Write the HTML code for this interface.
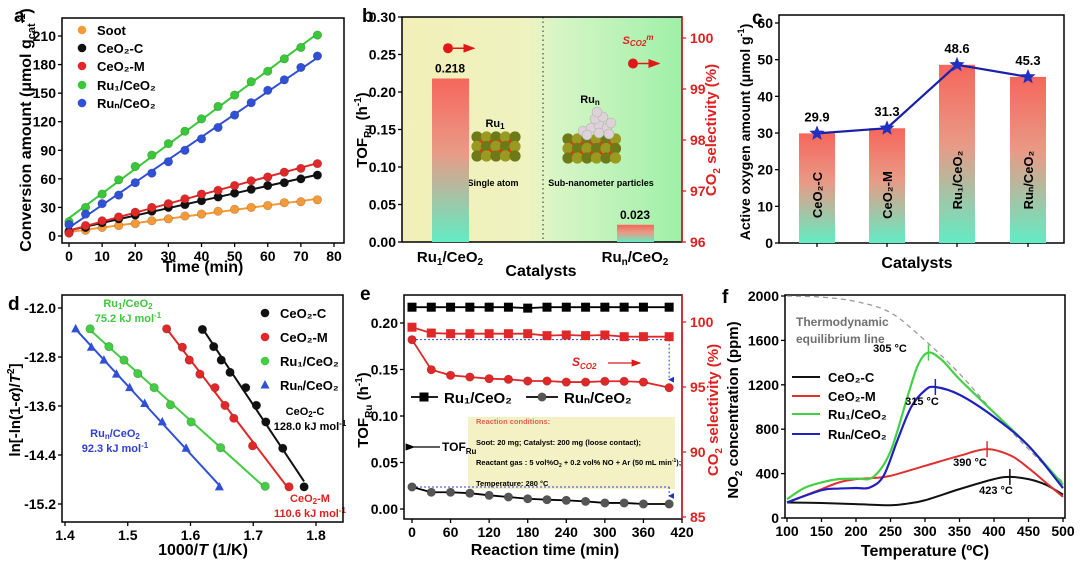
<!DOCTYPE html>
<html><head><meta charset="utf-8">
<style>
html,body{margin:0;padding:0;background:#fff;}
svg{display:block;font-family:"Liberation Sans",Arial,sans-serif;font-weight:bold;}
</style></head>
<body>
<svg id="fig" width="1080" height="571" viewBox="0 0 1080 571" xmlns="http://www.w3.org/2000/svg">
<defs>
<linearGradient id="gBar" x1="0" y1="0" x2="0" y2="1"><stop offset="0" stop-color="#f6665c"/><stop offset="0.45" stop-color="#e99a86"/><stop offset="1" stop-color="#62ecc4"/></linearGradient>
<linearGradient id="gBg" x1="0" y1="0" x2="1" y2="0"><stop offset="0" stop-color="#f3efb8"/><stop offset="0.45" stop-color="#eef3bf"/><stop offset="0.55" stop-color="#d8f5c6"/><stop offset="1" stop-color="#9ef0a8"/></linearGradient>
<marker id="arR" markerWidth="8" markerHeight="6" refX="7" refY="3" orient="auto"><path d="M0,0L8,3L0,6z" fill="#e01818"/></marker>
<marker id="arK" markerWidth="8" markerHeight="6" refX="1" refY="3" orient="auto"><path d="M8,0L0,3L8,6z" fill="#000"/></marker>
<marker id="arB" markerWidth="6" markerHeight="6" refX="3" refY="5" orient="auto"><path d="M0,0L3,6L6,0z" fill="#2030d0"/></marker>
</defs>

<!-- Panel a -->
<g>
<text x="14" y="22" font-size="19">a</text>
<text transform="translate(31,130) rotate(-90)" text-anchor="middle" font-size="16">Conversion amount (μmol g<tspan font-size="11" dy="4">cat</tspan><tspan font-size="11" dy="-10">-1</tspan><tspan dy="6">)</tspan></text>
<text x="203" y="272" text-anchor="middle" font-size="16">Time (min)</text>
</g>
<!-- Panel b -->
<g>
<rect x="402" y="17" width="280" height="225" fill="url(#gBg)"/>
<line x1="543" y1="17" x2="543" y2="242" stroke="#666" stroke-dasharray="1.5,3" stroke-width="1.5"/>
<text x="362" y="22" font-size="19">b</text>
<text transform="translate(367,130) rotate(-90)" text-anchor="middle" font-size="15">TOF<tspan font-size="10" dy="4">Ru</tspan><tspan dy="-4"> (h</tspan><tspan font-size="10" dy="-6">-1</tspan><tspan dy="6">)</tspan></text>
<text transform="translate(716,130) rotate(-90)" text-anchor="middle" font-size="15" fill="#e02020">CO<tspan font-size="10" dy="4">2</tspan><tspan dy="-4"> selectivity (%)</tspan></text>
<text x="450" y="262" text-anchor="middle" font-size="15">Ru<tspan font-size="10" dy="3">1</tspan><tspan dy="-3">/CeO</tspan><tspan font-size="10" dy="3">2</tspan></text>
<text x="635" y="262" text-anchor="middle" font-size="15">Ru<tspan font-size="10" dy="3">n</tspan><tspan dy="-3">/CeO</tspan><tspan font-size="10" dy="3">2</tspan></text>
<text x="541" y="276" text-anchor="middle" font-size="16">Catalysts</text>
<text x="495" y="127" text-anchor="middle" font-size="11">Ru<tspan font-size="8" dy="2">1</tspan></text>
<text x="493" y="186" text-anchor="middle" font-size="9">Single atom</text>
<text x="590" y="103" text-anchor="middle" font-size="11">Ru<tspan font-size="8" dy="2">n</tspan></text>
<text x="601" y="186" text-anchor="middle" font-size="9">Sub-nanometer particles</text>
<text x="638" y="44" text-anchor="middle" font-size="11" font-style="italic" fill="#e02020">S<tspan font-size="8" dy="2">CO2</tspan><tspan font-size="8" dy="-6">m</tspan></text>
<g id="bIllus"></g>
</g>
<!-- Panel c -->
<g>
<text x="752" y="24" font-size="19">c</text>
<text transform="translate(750,132) rotate(-90)" text-anchor="middle" font-size="14">Active oxygen amount (μmol g<tspan font-size="9" dy="-6">-1</tspan><tspan dy="6">)</tspan></text>
<text x="917" y="268" text-anchor="middle" font-size="16">Catalysts</text>
</g>
<!-- Panel d -->
<g>
<text x="8" y="310" font-size="19">d</text>
<text transform="translate(20,410) rotate(-90)" text-anchor="middle" font-size="15">ln[-ln(1-<tspan font-style="italic">α</tspan>)/<tspan font-style="italic">T</tspan><tspan font-size="10" dy="-6">2</tspan><tspan dy="6">]</tspan></text>
<text x="203" y="555" text-anchor="middle" font-size="16">1000/<tspan font-style="italic">T</tspan> (1/K)</text>
<text x="128" y="307" text-anchor="middle" font-size="11" fill="#3ec83e">Ru<tspan font-size="8" dy="2">1</tspan><tspan dy="-2">/CeO</tspan><tspan font-size="8" dy="2">2</tspan></text>
<text x="128" y="322" text-anchor="middle" font-size="11" fill="#3ec83e">75.2 kJ mol<tspan font-size="8" dy="-4">-1</tspan></text>
<text x="115" y="437" text-anchor="middle" font-size="11" fill="#3040d0">Ru<tspan font-size="8" dy="2">n</tspan><tspan dy="-2">/CeO</tspan><tspan font-size="8" dy="2">2</tspan></text>
<text x="115" y="452" text-anchor="middle" font-size="11" fill="#3040d0">92.3 kJ mol<tspan font-size="8" dy="-4">-1</tspan></text>
<text x="305" y="415" text-anchor="middle" font-size="11">CeO<tspan font-size="8" dy="2">2</tspan><tspan dy="-2">-C</tspan></text>
<text x="310" y="430" text-anchor="middle" font-size="11">128.0 kJ mol<tspan font-size="8" dy="-4">-1</tspan></text>
<text x="310" y="502" text-anchor="middle" font-size="11" fill="#e02020">CeO<tspan font-size="8" dy="2">2</tspan><tspan dy="-2">-M</tspan></text>
<text x="310" y="517" text-anchor="middle" font-size="11" fill="#e02020">110.6 kJ mol<tspan font-size="8" dy="-4">-1</tspan></text>
</g>
<!-- Panel e -->
<g>
<text x="360" y="300" font-size="19">e</text>
<rect x="468" y="417" width="207" height="72" fill="#f4f1c4"/>
<text x="476" y="424" font-size="7.5" fill="#e06050">Reaction conditions:</text>
<text x="476" y="445" font-size="7.5">Soot: 20 mg; Catalyst: 200 mg (loose contact);</text>
<text x="476" y="465" font-size="7.5">Reactant gas : 5 vol%O<tspan font-size="5" dy="2">2</tspan><tspan dy="-2"> + 0.2 vol% NO + Ar (50 mL min</tspan><tspan font-size="5" dy="-3">-1</tspan><tspan dy="3">);</tspan></text>
<text x="476" y="486" font-size="7.5">Temperature: 280 °C</text>
<line x1="440" y1="447" x2="414" y2="447" stroke="#000" stroke-width="1.2" marker-end="url(#arK)"/>
<text x="442" y="451" font-size="12">TOF<tspan font-size="8" dy="3">Ru</tspan></text>
<text x="572" y="366" font-size="12" font-style="italic" fill="#e02020">S<tspan font-size="8" dy="3">CO2</tspan></text>
<line x1="608" y1="363" x2="640" y2="363" stroke="#e01818" stroke-width="1.2" marker-end="url(#arR)"/>
<text transform="translate(368,410) rotate(-90)" text-anchor="middle" font-size="15">TOF<tspan font-size="10" dy="4">Ru</tspan><tspan dy="-4"> (h</tspan><tspan font-size="10" dy="-6">-1</tspan><tspan dy="6">)</tspan></text>
<text transform="translate(718,410) rotate(-90)" text-anchor="middle" font-size="15" fill="#e02020">CO<tspan font-size="10" dy="4">2</tspan><tspan dy="-4"> selectivity (%)</tspan></text>
<text x="545" y="555" text-anchor="middle" font-size="16">Reaction time (min)</text>
</g>
<!-- Panel f -->
<g>
<text x="722" y="303" font-size="19">f</text>
<text transform="translate(738,410) rotate(-90)" text-anchor="middle" font-size="15">NO<tspan font-size="10" dy="4">2</tspan><tspan dy="-4"> concentration (ppm)</tspan></text>
<text x="925" y="556" text-anchor="middle" font-size="16">Temperature (ºC)</text>
<text x="796" y="326" font-size="12" fill="#707070">Thermodynamic</text>
<text x="796" y="343" font-size="12" fill="#707070">equilibrium  line</text>
</g>
<g id="marks"></g>
</svg>
<script>
// ---- Panel a data ----
const aTime = [0,5,10,15,20,25,30,35,40,45,50,55,60,65,70,75];
const aSoot = [4,6,9,11,13,16,18,21,23,26,28,30,32,35,36,38];
const aCeOC = [5,9,14,18,22,26,30,33,37,41,45,49,53,56,60,64];
const aCeOM = [3,11,16,20,25,30,34,39,44,48,53,58,62,67,71,76];
const aRu1 = [15,30,44,59,73,85,97,110,123,136,148,162,173,186,198,211];
const aRun = [12,23,34,43,56,66,78,90,102,114,127,140,153,164,177,189];
const aXTicks = [0,10,20,30,40,50,60,70,80];
const aYTicks = [0,30,60,90,120,150,180,210];
// ---- Panel b data ----
const bCats = ["Ru1/CeO2","Run/CeO2"];
const bTOF = [0.218,0.023];
const bSel = [99.8,99.5];
const bYTicks = [0,0.05,0.10,0.15,0.20,0.25,0.30];
const bY2Ticks = [96,97,98,99,100];
// ---- Panel c data ----
const cCats = ["CeO2-C","CeO2-M","Ru1/CeO2","Run/CeO2"];
const cVals = [29.9,31.3,48.6,45.3];
const cYTicks = [0,10,20,30,40,50,60];
// ---- Panel d data ----
const dCX = [1.619,1.637,1.649,1.663,1.688,1.705,1.720,1.747,1.781];
const dCY = [-12.35,-12.63,-12.85,-13.05,-13.30,-13.59,-13.86,-14.29,-14.92];
const dMX = [1.562,1.587,1.598,1.615,1.639,1.655,1.669,1.699,1.757];
const dMY = [-12.34,-12.64,-12.85,-13.08,-13.30,-13.59,-13.80,-14.25,-14.92];
const dR1X = [1.440,1.470,1.494,1.516,1.542,1.568,1.601,1.648,1.719];
const dR1Y = [-12.34,-12.63,-12.85,-13.07,-13.30,-13.58,-13.86,-14.28,-14.91];
const dRnX = [1.417,1.442,1.462,1.482,1.503,1.527,1.555,1.593,1.646];
const dRnY = [-12.34,-12.64,-12.85,-13.08,-13.30,-13.56,-13.86,-14.29,-14.92];
const dXTicks = [1.4,1.5,1.6,1.7,1.8];
const dYTicks = [-12.0,-12.8,-13.6,-14.4,-15.2];
// ---- Panel e data ----
const eTime = [0,30,60,90,120,150,180,210,240,270,300,330,360,400];
const eTOF1 = [0.217,0.217,0.217,0.217,0.217,0.217,0.216,0.217,0.217,0.217,0.217,0.217,0.217,0.217];
const eTOFn = [0.0237,0.018,0.018,0.017,0.0147,0.0129,0.011,0.010,0.0093,0.0082,0.0065,0.0065,0.0054,0.0054];
const eSel1 = [99.6,99.15,99.1,99.1,99.1,99.1,99.1,98.95,99.0,98.95,99.0,98.87,98.87,98.87];
const eSeln = [98.64,96.33,95.9,95.77,95.64,95.59,95.46,95.46,95.38,95.38,95.44,95.44,95.38,94.95];
const eXTicks = [0,60,120,180,240,300,360,420];
const eYTicks = [0,0.05,0.10,0.15,0.20];
const eY2Ticks = [85,90,95,100];
// ---- Panel f data ----
const fBlackT = [100,150,200,250,275,300,350,400,423,450,475,500];
const fBlackV = [140,135,125,115,130,160,260,350,370,350,300,210];
const fRedT = [100,150,175,200,225,250,300,350,390,425,450,475,500];
const fRedV = [140,260,320,350,360,380,470,560,620,560,450,320,190];
const fGreenT = [100,125,150,175,200,225,250,275,290,305,325,350,400,450,500];
const fGreenV = [170,270,320,350,355,370,600,1100,1380,1490,1420,1250,950,650,300];
const fBlueT = [100,150,175,200,220,240,260,280,300,315,350,400,450,500];
const fBlueV = [140,250,265,270,275,380,700,1000,1150,1180,1110,910,650,270];
const fEqT = [100,150,200,250,300,350,400,450,500];
const fEqV = [2000,1990,1950,1850,1600,1300,950,620,320];
const fXTicks = [100,150,200,250,300,350,400,450,500];
const fYTicks = [0,400,800,1200,1600,2000];

const NS="http://www.w3.org/2000/svg";
const root=document.getElementById('marks');
function mk(tag,parent){const e=document.createElementNS(NS,tag);(parent||root).appendChild(e);return e;}
function at(e,o){for(const k in o)e.setAttribute(k,o[k]);return e;}

const xa=t=>69+t*(265/80), ya=v=>236-v*(200/210);
const yb=v=>242-v*(225/0.3), yb2=s=>242-(s-96)*51;
const yc=v=>243-v*(220/60);
const xd=x=>65+(x-1.4)*(251/0.4), yd=y=>308+(-12-y)*(196/3.2);
const xe=t=>412+t*(270/420), ye=v=>509-v*(186/0.2), ye2=s=>322+(100-s)*13;
const xf=t=>787+(t-100)*(276/400), yf=v=>518-v*(222/2000);

function frame(x,y,w,h,name,color){let e=mk('rect');at(e,{x:x,y:y,width:w,height:h,fill:'none',stroke:color||'#000','stroke-width':1.5});

}
function xTicks(ticks,sx,yb0,fmt,name){ticks.forEach(t=>{let l=mk('line');at(l,{x1:sx(t),x2:sx(t),y1:yb0,y2:yb0+4,stroke:'#000','stroke-width':1.3});


let tx=mk('text');at(tx,{x:sx(t),y:yb0+18,'text-anchor':'middle','font-size':14});tx.textContent=fmt(t);

});}
function yTicks(ticks,sy,x0,fmt,name,right,color){ticks.forEach(t=>{let d=right?4:-4;let l=mk('line');at(l,{x1:x0,x2:x0+d,y1:sy(t),y2:sy(t),stroke:color||'#000','stroke-width':1.3});


let tx=mk('text');at(tx,{x:right?x0+8:x0-6,y:sy(t)+5,'text-anchor':right?'start':'end','font-size':14,fill:color||'#000'});tx.textContent=fmt(t);

});}
function fitLine(xs,ys,sx,sy,color,name){const n=xs.length;let mx=0,my=0;xs.forEach((x,i)=>{mx+=x;my+=ys[i];});mx/=n;my/=n;let num=0,den=0;xs.forEach((x,i)=>{num+=(x-mx)*(ys[i]-my);den+=(x-mx)*(x-mx);});const k=num/den,b=my-k*mx;const x0=xs[0],x1=xs[n-1];
let l=mk('line');at(l,{x1:sx(x0),y1:sy(k*x0+b),x2:sx(x1),y2:sy(k*x1+b),stroke:color,'stroke-width':2});

}
function polyline(xs,ys,sx,sy,color,name,w){let p=mk('polyline');at(p,{points:xs.map((x,i)=>sx(x)+','+sy(ys[i])).join(' '),fill:'none',stroke:color,'stroke-width':w||1.8});

return p;}
function smooth(xs,ys,sx,sy,color,name,w,dash){const P=xs.map((x,i)=>[sx(x),sy(ys[i])]);let d='M'+P[0][0]+','+P[0][1];for(let i=0;i<P.length-1;i++){const p0=P[Math.max(0,i-1)],p1=P[i],p2=P[i+1],p3=P[Math.min(P.length-1,i+2)];d+=' C'+(p1[0]+(p2[0]-p0[0])/6)+','+(p1[1]+(p2[1]-p0[1])/6)+' '+(p2[0]-(p3[0]-p1[0])/6)+','+(p2[1]-(p3[1]-p1[1])/6)+' '+p2[0]+','+p2[1];}
let p=mk('path');at(p,{d:d,fill:'none',stroke:color,'stroke-width':w||2});if(dash)p.setAttribute('stroke-dasharray',dash);

}
function dots(xs,ys,sx,sy,color,name,r){xs.forEach((x,i)=>{let c=mk('circle');at(c,{cx:sx(x),cy:sy(ys[i]),r:r||4.5,fill:color,stroke:'rgba(0,0,0,0.25)','stroke-width':0.6});

});}
function tris(xs,ys,sx,sy,color,name){xs.forEach((x,i)=>{const X=sx(x),Y=sy(ys[i]);let p=mk('path');at(p,{d:`M${X},${Y-5}L${X+4.5},${Y+3.5}L${X-4.5},${Y+3.5}Z`,fill:color});

});}
function squares(xs,ys,sx,sy,color,name){xs.forEach((x,i)=>{let r=mk('rect');at(r,{x:sx(x)-4.5,y:sy(ys[i])-4.5,width:9,height:9,fill:color});

});}
function txt(x,y,s,size,anchor,color,name){let t=mk('text');at(t,{x:x,y:y,'font-size':size,'text-anchor':anchor||'start',fill:color||'#000'});t.textContent=s;

return t;}

// ===== Panel a =====
frame(62,18,282,225,'a-plot-frame');
xTicks(aXTicks,xa,243,t=>t,'a-x-tick');
yTicks(aYTicks,ya,62,t=>t,'a-y-tick');
const aSeries=[[aSoot,'#f59a36','soot'],[aCeOC,'#111111','ceo2-c'],[aCeOM,'#e02828','ceo2-m'],[aRu1,'#38c838','ru1-ceo2'],[aRun,'#3050d8','run-ceo2']];
aSeries.forEach(s=>{fitLine(aTime,s[0],xa,ya,s[1],'a-fit-'+s[2]);dots(aTime,s[0],xa,ya,s[1],'a-point-'+s[2],4.3);});
const aLeg=[['Soot','#f59a36',30],['CeO₂-C','#111',48],['CeO₂-M','#e02828',66],['Ru₁/CeO₂','#38c838',85],['Ruₙ/CeO₂','#3050d8',103]];
aLeg.forEach(l=>{let c=mk('circle');at(c,{cx:82,cy:l[2],r:4.3,fill:l[1]});


txt(97,l[2]+5,l[0],13,'start','#000','a-legend-entry');});

// ===== Panel b =====
frame(402,17,280,225,'b-plot-frame');
let rax=mk('line');at(rax,{x1:682,y1:17,x2:682,y2:242,stroke:'#e02020','stroke-width':1.5});


yTicks(bYTicks,yb,402,t=>t.toFixed(2),'b-y-tick');
yTicks(bY2Ticks,yb2,682,t=>t,'b-y2-tick',true,'#e02020');
const bX=[450,635];
bTOF.forEach((v,i)=>{let r=mk('rect');at(r,{x:bX[i]-18,y:yb(v),width:37,height:242-yb(v),fill:'url(#gBar)'});


txt(bX[i],yb(v)-6,v.toFixed(3),12,'middle','#000','b-bar-value');});
bSel.forEach((s,i)=>{const X=bX[i];let c=mk('circle');at(c,{cx:X-2,cy:yb2(s),r:5,fill:'#e01818'});


let l=mk('line');at(l,{x1:X+3,y1:yb2(s),x2:X+24,y2:yb2(s),stroke:'#e01818','stroke-width':1.5,'marker-end':'url(#arR)'});

});
const ill=document.getElementById('bIllus');
function slab(x0,y0,cols,rows){for(let r=0;r<rows;r++)for(let c=0;c<cols;c++){let e=mk('circle',ill);at(e,{cx:x0+c*9.5,cy:y0+r*9.5,r:5.6,fill:(r+c)%2?'#9a9a20':'#6e7a18'});


if(c<cols-1&&r<rows-1){let o=mk('circle',ill);at(o,{cx:x0+c*9.5+4.7,cy:y0+r*9.5+4.7,r:2.2,fill:'#e03a1c'});

}}}
slab(477,137,5,3);slab(568,139,6,3);
[[583,131],[591,128],[599,125],[607,128],[595,119],[603,117],[611,123],[587,135],[599,133],[609,134],[597,112]].forEach(p=>{let e=mk('circle',ill);at(e,{cx:p[0],cy:p[1],r:5,fill:'#dcd2d8',stroke:'#aaa','stroke-width':0.5});

});

// ===== Panel c =====
frame(779,15,285,228,'c-plot-frame');
yTicks(cYTicks,yc,779,t=>t,'c-y-tick');
const cX=[817,887,957,1028];
const cLab=['CeO₂-C','CeO₂-M','Ru₁/CeO₂','Ruₙ/CeO₂'];
cVals.forEach((v,i)=>{let r=mk('rect');at(r,{x:cX[i]-18,y:yc(v),width:36,height:243-yc(v),fill:'url(#gBar)'});


let t=txt(0,0,cLab[i],13,'middle','#000','c-bar-label');t.setAttribute('transform',`translate(${cX[i]+5},${i<2?195:180}) rotate(-90)`);
txt(cX[i],yc(v)-12,v.toFixed(1),13,'middle','#000','c-value-label');
let tk=mk('line');at(tk,{x1:cX[i],x2:cX[i],y1:243,y2:247,stroke:'#000','stroke-width':1.3});

});
polyline(cX.map((x,i)=>i),cVals,i=>cX[i],yc,'#1a20a8','c-trend-line',2.2);
cVals.forEach((v,i)=>{const X=cX[i],Y=yc(v);let d='';for(let k=0;k<10;k++){const a=-Math.PI/2+k*Math.PI/5,rr=k%2?3.5:8;d+=(k?'L':'M')+(X+rr*Math.cos(a))+','+(Y+rr*Math.sin(a));}
let s=mk('path');at(s,{d:d+'Z',fill:'#2030c0'});

});

// ===== Panel d =====
frame(62,295,281,227,'d-plot-frame');
xTicks(dXTicks,xd,522,t=>t.toFixed(1),'d-x-tick');
yTicks(dYTicks,yd,62,t=>t.toFixed(1),'d-y-tick');
const dS=[[dCX,dCY,'#111','ceo2-c'],[dMX,dMY,'#e02828','ceo2-m'],[dR1X,dR1Y,'#44cc44','ru1-ceo2'],[dRnX,dRnY,'#3050d8','run-ceo2']];
dS.forEach((s,j)=>{fitLine(s[0],s[1],xd,yd,s[2],'d-fit-'+s[3]);if(j<3)dots(s[0],s[1],xd,yd,s[2],'d-point-'+s[3],4.3);else tris(s[0],s[1],xd,yd,s[2],'d-point-'+s[3]);});
const dLeg=[['CeO₂-C','#111',313],['CeO₂-M','#e02828',337],['Ru₁/CeO₂','#44cc44',361],['Ruₙ/CeO₂','#3050d8',385]];
dLeg.forEach((l,i)=>{if(i<3){let c=mk('circle');at(c,{cx:265,cy:l[2],r:4.3,fill:l[1]});

}else{tris([0],[0],()=>265,()=>l[2],l[1],'d-legend-marker');}
txt(280,l[2]+5,l[0],13,'start','#000','d-legend-entry');});

// ===== Panel e =====
frame(404,295,278,224,'e-plot-frame');
let rax2=mk('line');at(rax2,{x1:682,y1:295,x2:682,y2:519,stroke:'#e02020','stroke-width':1.5});


xTicks(eXTicks,xe,519,t=>t,'e-x-tick');
yTicks(eYTicks,ye,404,t=>t.toFixed(2),'e-y-tick');
yTicks(eY2Ticks,ye2,682,t=>t,'e-y2-tick',true,'#e02020');
[[ye2(eSeln[0]),'e-ref-line-sel'],[ye(eTOFn[0]),'e-ref-line-tof']].forEach(r=>{let l=mk('line');at(l,{x1:xe(0),x2:xe(400),y1:r[0],y2:r[0],stroke:'#3040d0','stroke-width':1,'stroke-dasharray':'2,2'});

});
[[ye2(eSeln[0]),ye2(eSeln[13])-8],[ye(eTOFn[0]),ye(eTOFn[13])-8]].forEach(r=>{let l=mk('line');at(l,{x1:xe(400),x2:xe(400),y1:r[0],y2:r[1],stroke:'#3040d0','stroke-width':1,'stroke-dasharray':'2,2','marker-end':'url(#arB)'});

});
polyline(eTime,eTOF1,xe,ye,'#000','e-line-ru1-tof',1.8);squares(eTime,eTOF1,xe,ye,'#000','e-point-ru1-tof');
polyline(eTime,eTOFn,xe,ye,'#000','e-line-run-tof',1.8);dots(eTime,eTOFn,xe,ye,'#555','e-point-run-tof',4.3);
polyline(eTime,eSel1,xe,ye2,'#e02828','e-line-ru1-sel',1.8);squares(eTime,eSel1,xe,ye2,'#e02828','e-point-ru1-sel');
polyline(eTime,eSeln,xe,ye2,'#e02828','e-line-run-sel',1.8);dots(eTime,eSeln,xe,ye2,'#e02828','e-point-run-sel',4.3);
let el1=mk('line');at(el1,{x1:411,x2:438,y1:397,y2:397,stroke:'#000','stroke-width':1.8});


squares([0],[0],()=>424,()=>397,'#000','e-legend-marker-ru1');
txt(444,403,'Ru₁/CeO₂',15,'start','#000','e-legend-entry');
let el2=mk('line');at(el2,{x1:526,x2:558,y1:397,y2:397,stroke:'#000','stroke-width':1.8});


dots([0],[0],()=>542,()=>397,'#555','e-legend-marker-run',4.3);
txt(564,403,'Ruₙ/CeO₂',15,'start','#000','e-legend-entry');

// ===== Panel f =====
frame(785,295,280,223,'f-plot-frame');
xTicks(fXTicks,xf,518,t=>t,'f-x-tick');
yTicks(fYTicks,yf,785,t=>t,'f-y-tick');
smooth(fEqT,fEqV,xf,yf,'#9a9a9a','f-equilibrium-line',1.3,'5,4');
smooth(fBlackT,fBlackV,xf,yf,'#111','f-line-ceo2-c',2);
smooth(fRedT,fRedV,xf,yf,'#e03030','f-line-ceo2-m',2);
smooth(fGreenT,fGreenV,xf,yf,'#44d044','f-line-ru1-ceo2',2.2);
smooth(fBlueT,fBlueV,xf,yf,'#2020c0','f-line-run-ceo2',2.2);
const fPk=[[305,1490,'#44d044','305 °C',890,352],[315,1180,'#2020c0','315 °C',922,405],[390,620,'#e03030','390 °C',970,466],[423,370,'#111','423 °C',996,494]];
fPk.forEach(p=>{let l=mk('line');at(l,{x1:xf(p[0]),x2:xf(p[0]),y1:yf(p[1])-8,y2:yf(p[1])+8,stroke:p[2],'stroke-width':1.5});


txt(p[4],p[5],p[3],11,'middle','#000','f-peak-label');});
const fLeg=[['CeO₂-C','#111',377],['CeO₂-M','#e03030',396],['Ru₁/CeO₂','#44d044',414],['Ruₙ/CeO₂','#2020c0',434]];
fLeg.forEach(l=>{let ln=mk('line');at(ln,{x1:792,x2:820,y1:l[2],y2:l[2],stroke:l[1],'stroke-width':2});


txt(828,l[2]+5,l[0],13,'start','#000','f-legend-entry');});
</script>
</body></html>
